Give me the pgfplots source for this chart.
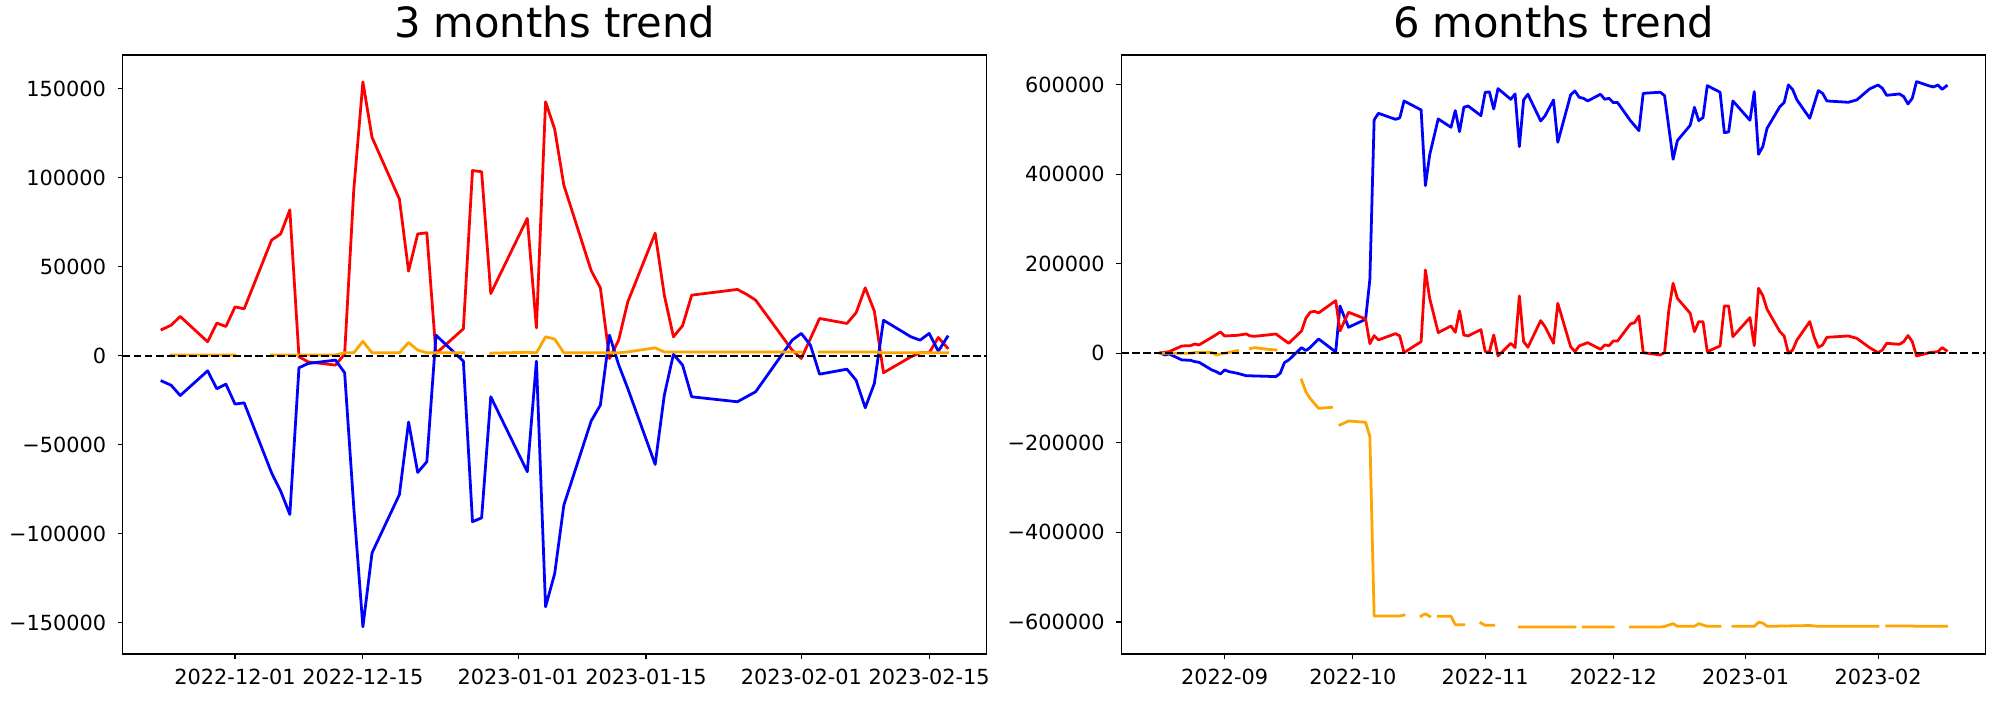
\documentclass[border=0pt]{standalone}
\usepackage{fontspec}
\setmainfont{DejaVu Sans}
\usepackage{pgfplots}
\pgfplotsset{compat=1.18}
\definecolor{mplorange}{RGB}{255,165,0}
\pgfplotsset{
  myax/.style={
    scale only axis,
    height=431.28pt,
    axis line style={line width=0.8pt, black},
    tick style={line width=0.8pt, black},
    major tick length=3.5pt,
    tick align=outside,
    tick pos=left,
    scaled y ticks=false,
    scaled x ticks=false,
    ticklabel style={font=\fontsize{15}{18}\selectfont},
    xticklabel style={anchor=north, inner sep=0pt, yshift=-7.2pt},
    yticklabel style={anchor=east, inner sep=0pt, xshift=-8.3pt},
    title style={font=\fontsize{30}{36}\selectfont, at={(0.5,1)}, anchor=base, yshift=6.3pt, inner sep=0pt},
    unbounded coords=jump,
  },
  ser/.style={#1, line width=2pt, line join=round, line cap=rect, mark=none},
  zero/.style={black, line width=1.5pt, dash pattern=on 5.55pt off 2.4pt, line cap=butt, mark=none},
}
\begin{document}
\begin{tikzpicture}
\path[use as bounding box] (0,0) rectangle (1440pt,504pt);

% ---------------- left: 3 months (x = days since 2022-12-01)
\begin{axis}[myax,
  at={(88.34pt,33.12pt)}, anchor=south west, width=622.08pt,
  title={3 months trend},
  xmin=-12.3, xmax=82.3, ymin=-167500, ymax=169000,
  xtick={0,14,31,45,62,76},
  xticklabels={2022-12-01,2022-12-15,2023-01-01,2023-01-15,2023-02-01,2023-02-15},
  ytick={-150000,-100000,-50000,0,50000,100000,150000},
  yticklabels={−150000,−100000,−50000,0,50000,100000,150000},
]
\addplot[ser=red] coordinates {
(-8,14800)(-7,17200)(-6,22100)(-3,7900)(-2,18400)(-1,16500)(0,27500)(1,26400)
(4,65000)(5,68500)(6,82000)(7,-500)(8,-3400)(11,-5200)(12,1000)(13,93100)(14,153900)(15,122700)
(18,88000)(19,47600)(20,68500)(21,69100)(22,1300)(25,15200)(26,104100)(27,103400)(28,35000)
(32,77200)(33,15700)(34,142700)(35,127300)(36,95900)(39,47800)(40,38200)(41,-1500)(42,8800)(43,30300)
(46,68900)(47,34100)(48,10700)(49,16900)(50,34100)(55,37300)(56,34600)(57,31300)(61,3200)(62,-1500)(63,9700)
(64,21000)(67,18200)(68,24200)(69,38200)(70,25100)(71,-9500)(74,-560)(75,1700)(76,1700)(77,10300)(78,4500)
};
\addplot[ser=blue] coordinates {
(-8,-14200)(-7,-16500)(-6,-22300)(-3,-8400)(-2,-18500)(-1,-15900)(0,-27100)(1,-26400)
(4,-65700)(5,-76000)(6,-89100)(7,-6700)(8,-4300)(11,-2400)(12,-9500)(13,-85000)(14,-152200)(15,-110700)
(18,-77900)(19,-37200)(20,-65500)(21,-59500)(22,11600)(25,-3000)(26,-93200)(27,-91000)(28,-23000)
(32,-65100)(33,-3000)(34,-141000)(35,-122300)(36,-83900)(39,-36500)(40,-27700)(41,11600)(42,-5000)(43,-18300)
(46,-61000)(47,-22100)(48,900)(49,-5200)(50,-23000)(55,-25800)(56,-23000)(57,-20200)(61,8800)(62,12600)(63,6000)
(64,-10300)(67,-7500)(68,-13700)(69,-29200)(70,-15500)(71,20000)(74,10700)(75,8800)(76,12600)(77,2600)(78,10700)
};
\addplot[ser=mplorange] coordinates {
(-8,nan)(-7,500)(-6,500)(-3,500)(-2,500)(-1,500)(0,500)(1,nan)
(4,500)(5,500)(6,500)(7,500)(8,500)(11,500)(12,1700)(13,1700)(14,8100)(15,1700)
(18,1700)(19,7500)(20,3200)(21,1700)(22,1700)(25,1700)(26,nan)(27,nan)(28,1500)
(32,2000)(33,1700)(34,10700)(35,9400)(36,1700)(39,1700)(40,1700)(41,1700)(42,1700)(43,2200)
(46,4500)(47,2200)(48,2200)(49,2200)(50,2200)(55,2200)(56,2200)(57,2200)(61,2200)(62,2200)(63,nan)
(64,2200)(67,2200)(68,2200)(69,2200)(70,2200)(71,1700)(74,1700)(75,1700)(76,1700)(77,1700)(78,1700)
};
\addplot[zero] coordinates {(-12.3,0)(82.3,0)};
\end{axis}

% ---------------- right: 6 months (x = days since 2022-09-01)
\begin{axis}[myax,
  at={(807.34pt,33.12pt)}, anchor=south west, width=622.37pt,
  title={6 months trend},
  xmin=-24.2, xmax=178.2, ymin=-671600, ymax=666200,
  xtick={0,30,61,91,122,153},
  xticklabels={2022-09,2022-10,2022-11,2022-12,2023-01,2023-02},
  ytick={-600000,-400000,-200000,0,200000,400000,600000},
  yticklabels={−600000,−400000,−200000,0,200000,400000,600000},
]
\addplot[ser=blue] coordinates {
(-15,700)(-14,-3700)(-13,-1500)(-10,-14900)(-8,-15600)(-7,-18600)(-6,-20100)(-3,-37200)(-2,-40900)(-1,-46200)
(0,-37200)(1,-40900)(3,-44700)(5,-49900)(7,-50600)(10,-51400)(12,-52100)(13,-44700)(14,-20800)(15,-14900)
(18,12700)(19,6000)(20,12700)(22,32000)(26,3000)(27,105700)(29,58100)(33,75900)(34,165300)(35,521200)
(36,536000)(40,522600)(41,525600)(42,563600)(46,543500)(47,374500)(48,443000)(50,523400)(53,504800)(54,542000)
(55,495100)(56,549400)(57,552400)(60,530800)(61,582900)(62,583700)(63,545700)(64,591100)(67,567300)(68,579200)
(69,461600)(70,565800)(71,578500)(74,518900)(75,530100)(77,565800)(78,471300)(81,577000)(82,585900)(83,571800)
(84,569500)(85,563600)(88,578500)(89,567300)(90,569500)(91,559900)(92,559900)(95,519700)(97,497300)(98,580700)
(102,583000)(103,575500)(105,433300)(106,475000)(109,509200)(110,549400)(111,519700)(112,526400)(113,597800)
(116,583000)(117,492900)(118,494300)(119,563600)(123,520400)(124,584400)(125,444500)(126,461600)(127,502500)
(130,550900)(131,559900)(132,599300)(133,588900)(134,565800)(137,524900)(139,586700)(140,580700)(141,563600)
(146,560600)(148,565800)(151,590400)(153,599300)(154,591900)(155,576200)(158,579200)(159,573300)(160,556900)
(161,569500)(162,606800)(165,597100)(166,594900)(167,599300)(168,589600)(169,597100)
};
\addplot[ser=red] coordinates {
(-15,700)(-13,3700)(-10,16400)(-8,17100)(-7,20800)(-6,18600)(-3,35700)(-1,47600)(0,38700)(3,40200)
(5,43200)(6,38700)(7,38000)(10,40900)(12,43200)(15,22300)(18,49900)(19,78200)(20,91600)(21,93800)
(22,90100)(26,117600)(27,49900)(29,91600)(33,76700)(34,21600)(35,39500)(36,29800)(40,43900)(41,38700)
(42,1500)(46,26100)(47,186100)(48,122800)(50,46200)(53,61000)(54,46900)(55,94600)(56,40900)(57,38700)
(60,52900)(61,3700)(62,3700)(63,40900)(64,-6000)(67,22300)(68,12700)(69,128100)(70,26100)(71,13400)
(74,73000)(75,59600)(77,22300)(78,111700)(81,14900)(82,3700)(83,16400)(85,23800)(88,8900)(89,18600)
(90,17100)(91,27500)(92,27500)(95,65500)(96,68500)(97,83400)(98,1500)(102,-3700)(103,1500)(104,96800)
(105,156300)(106,122800)(109,89300)(110,48400)(111,70700)(112,70700)(113,3700)(116,16400)(117,105700)
(118,105700)(119,37200)(123,79700)(124,17100)(125,145200)(126,128800)(127,98300)(130,48400)(131,38700)
(132,0)(133,7400)(134,29800)(137,70700)(138,37200)(139,13400)(140,18600)(141,35700)(146,38700)(148,33500)
(151,12700)(153,1500)(154,7400)(155,22300)(158,20100)(159,26100)(160,39500)(161,26100)(162,-6000)
(165,1500)(167,3700)(168,12700)(169,6000)
};
\addplot[ser=mplorange] coordinates {
(-15,0)(-14,0)(-13,0)(-10,0)(-8,0)(-7,1500)(-6,2200)(-3,2000)(-2,-3700)(-1,-1500)(0,0)(1,2000)(3,5900)
(5,nan)(6,10400)(7,12700)(10,9000)(12,7400)(13,nan)(14,nan)(15,nan)
(18,-59600)(19,-85700)(20,-100600)(21,-112000)(22,-123000)(25,-120700)(26,nan)
(27,-160100)(29,-151200)(33,-154100)(34,-186100)(35,-586800)(36,-586800)(40,-586800)(41,-586800)(42,-584600)
(43,nan)(46,-586800)(47,-581700)(48,-587500)(49,nan)(50,-587500)(53,-587500)(54,-606100)(56,-606100)(57,nan)
(60,-602400)(61,-607600)(63,-607600)(64,nan)(67,nan)(68,nan)(69,-611300)(75,-611300)(82,-611300)(83,nan)
(84,-611300)(91,-611300)(92,nan)(95,-611300)(102,-611300)(103,-610000)(105,-603900)(106,-609800)(110,-609800)
(111,-603900)(113,-609800)(116,-609800)(117,nan)(118,nan)(119,-609800)(124,-609800)(125,-601000)(126,-602400)
(127,-609800)(137,-608000)(139,-609800)(153,-609800)(154,nan)(155,-609100)(161,-609100)(162,-609800)(169,-609800)
};
\addplot[zero] coordinates {(-24.2,0)(178.2,0)};
\end{axis}
\end{tikzpicture}
\end{document}
